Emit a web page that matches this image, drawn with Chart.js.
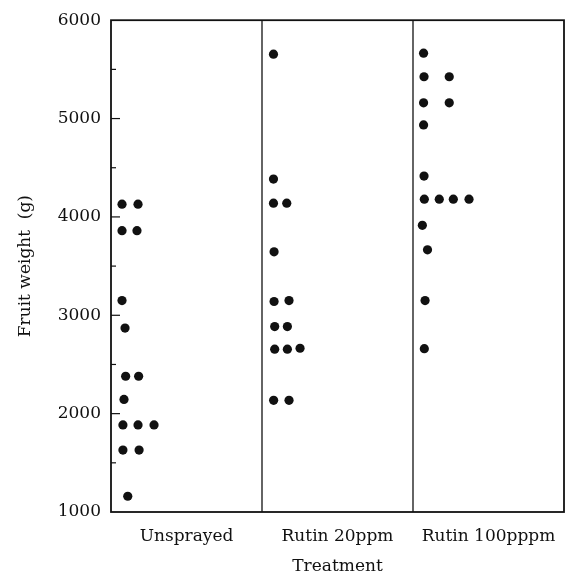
<!DOCTYPE html>
<html>
<head>
<meta charset="utf-8">
<script src="https://cdn.jsdelivr.net/npm/chart.js@4.4.1/dist/chart.umd.min.js"></script>
<style>
  html, body { margin: 0; padding: 0; background: #fff; }
  #wrap { width: 571px; height: 585px; }
</style>
</head>
<body>
<div id="wrap"><canvas id="myChart"></canvas></div>
<script>
// treatments (one panel each)
const treatments = ['Unsprayed', 'Rutin 20ppm', 'Rutin 100pppm'];
const yTicks = [1000, 2000, 3000, 4000, 5000, 6000];

// horizontal slot inside the panel (fraction of panel width) and fruit weight (g)
const unsprayedPos = [0.073, 0.179, 0.073, 0.172, 0.073, 0.093, 0.097, 0.183, 0.086, 0.079, 0.179, 0.285, 0.079, 0.186, 0.111];
const unsprayedWeight = [4130, 4130, 3860, 3860, 3150, 2870, 2380, 2380, 2145, 1885, 1885, 1885, 1630, 1630, 1160];

const rutin20Pos = [0.076, 0.076, 0.076, 0.164, 0.080, 0.080, 0.179, 0.084, 0.168, 0.084, 0.168, 0.252, 0.077, 0.179];
const rutin20Weight = [5655, 4385, 4140, 4140, 3645, 3140, 3150, 2885, 2885, 2655, 2655, 2665, 2135, 2135];

const rutin100Pos = [0.070, 0.073, 0.240, 0.070, 0.240, 0.070, 0.073, 0.075, 0.174, 0.267, 0.371, 0.062, 0.096, 0.080, 0.075];
const rutin100Weight = [5665, 5425, 5425, 5160, 5160, 4935, 4415, 4180, 4180, 4180, 4180, 3915, 3665, 3150, 2660];

function pts(panel, pos, w) {
  return pos.map(function(p, i){ return { x: panel + p, y: w[i] }; });
}

const ink = '#111';
const serif = 'DejaVu Serif';

// frame, panel dividers and inward ticks
const framePlugin = {
  id: 'frame',
  afterDraw: function(chart) {
    const ctx = chart.ctx;
    const a = chart.chartArea;
    const xs = chart.scales.x, ys = chart.scales.y;
    ctx.save();
    ctx.strokeStyle = ink;
    ctx.lineWidth = 1.8;
    ctx.strokeRect(a.left, a.top, a.right - a.left, a.bottom - a.top);
    ctx.lineWidth = 1.3;
    [1, 2].forEach(function(v){
      const px = xs.getPixelForValue(v);
      ctx.beginPath();
      ctx.moveTo(px, a.top);
      ctx.lineTo(px, a.bottom);
      ctx.stroke();
    });
    ctx.lineWidth = 1.2;
    for (let v = 1500; v < 6000; v += 500) {
      const py = ys.getPixelForValue(v);
      const len = (v % 1000 === 0) ? 9 : 5;
      ctx.beginPath();
      ctx.moveTo(a.left, py);
      ctx.lineTo(a.left + len, py);
      ctx.stroke();
    }
    ctx.restore();
  }
};

const ctx = document.getElementById('myChart').getContext('2d');
const chart = new Chart(ctx, {
  type: 'scatter',
  data: {
    datasets: [
      { label: treatments[0], data: pts(0, unsprayedPos, unsprayedWeight) },
      { label: treatments[1], data: pts(1, rutin20Pos, rutin20Weight) },
      { label: treatments[2], data: pts(2, rutin100Pos, rutin100Weight) }
    ]
  },
  options: {
    responsive: true,
    maintainAspectRatio: false,
    animation: false,
    layout: { padding: { left: 11, right: 7, top: 15, bottom: 4 } },
    elements: {
      point: { radius: 4.6, backgroundColor: ink, borderColor: ink, borderWidth: 0 }
    },
    plugins: {
      legend: { display: false },
      tooltip: { enabled: false }
    },
    scales: {
      x: {
        type: 'linear',
        min: 0,
        max: 3,
        grid: { display: false, drawTicks: false },
        border: { display: false },
        afterBuildTicks: function(scale) {
          scale.ticks = [0.5, 1.5, 2.5].map(function(v){ return { value: v }; });
        },
        afterFit: function(scale) { scale.height = 69; },
        ticks: {
          autoSkip: false,
          maxRotation: 0,
          padding: 14,
          color: ink,
          font: { family: serif, size: 17 },
          callback: function(v) { return treatments[Math.floor(v)]; }
        },
        title: {
          display: true,
          text: 'Treatment',
          color: ink,
          font: { family: serif, size: 17 }
        }
      },
      y: {
        min: 1000,
        max: 6000,
        grid: { display: false, drawTicks: false },
        border: { display: false },
        afterBuildTicks: function(scale) {
          scale.ticks = yTicks.map(function(v){ return { value: v }; });
        },
        afterFit: function(scale) { scale.width = 100; },
        ticks: {
          padding: 10,
          color: ink,
          font: { family: serif, size: 17 },
          callback: function(v) { return String(v); }
        },
        title: {
          display: true,
          text: 'Fruit weight  (g)',
          color: ink,
          font: { family: serif, size: 17 }
        }
      }
    }
  },
  plugins: [framePlugin]
});
</script>
</body>
</html>
